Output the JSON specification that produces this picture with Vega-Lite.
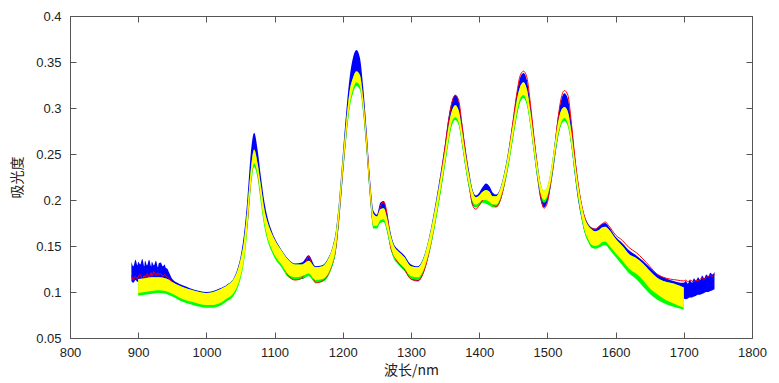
{
  "$schema": "https://vega.github.io/schema/vega-lite/v6.json",
  "width": 682,
  "height": 322,
  "autosize": "none",
  "padding": {"left": 70, "top": 16, "right": 27, "bottom": 45},
  "background": "white",
  "config": {
    "view": {"stroke": null},
    "axis": {"labelFont": "Liberation Sans", "labelFontSize": 13, "labelColor": "#222", "labelFlush": false, "domainColor": "#555", "tickColor": "#555", "grid": false, "titleFont": "Noto Sans CJK SC", "titleFontSize": 14, "titleFontWeight": "normal", "titleColor": "#222"}
  },
  "data": {"values": [
    {"x":890,"bh":0.133,"bl":0.112,"r":0.118},
    {"x":893,"bh":0.128,"bl":0.110,"r":0.113},
    {"x":896,"bh":0.135,"bl":0.113,"r":0.117},
    {"x":899,"bh":0.129,"bl":0.111,"r":0.114},
    {"x":900,"yh":0.114,"yl":0.099,"gl":0.096,"bh":0.133,"bl":0.112,"r":0.116},
    {"x":903,"bh":0.130,"bl":0.111,"r":0.119},
    {"x":906,"bh":0.136,"bl":0.113,"r":0.114},
    {"x":909,"bh":0.128,"bl":0.110,"r":0.118},
    {"x":910,"yh":0.115,"yl":0.100,"gl":0.097,"bh":0.134,"bl":0.112,"r":0.115},
    {"x":913,"bh":0.129,"bl":0.111,"r":0.120},
    {"x":916,"bh":0.135,"bl":0.112,"r":0.116},
    {"x":919,"bh":0.128,"bl":0.110,"r":0.121},
    {"x":920,"yh":0.116,"yl":0.101,"gl":0.098,"bh":0.133,"bl":0.112,"r":0.117},
    {"x":923,"bh":0.129,"bl":0.111,"r":0.122},
    {"x":926,"bh":0.134,"bl":0.112,"r":0.118},
    {"x":929,"bh":0.127,"bl":0.111,"r":0.121},
    {"x":930,"yh":0.116,"yl":0.102,"gl":0.099,"bh":0.131,"bl":0.112,"r":0.119},
    {"x":933,"bh":0.132,"bl":0.112,"r":0.120},
    {"x":936,"bh":0.128,"bl":0.112,"r":0.117},
    {"x":939,"bh":0.130,"bl":0.113,"r":0.119},
    {"x":940,"yh":0.115,"yl":0.101,"gl":0.098,"bh":0.127,"bl":0.113,"r":0.118},
    {"x":943,"bh":0.125,"bl":0.113,"r":0.116},
    {"x":946,"bh":0.120,"bl":0.111,"r":0.114},
    {"x":950,"yh":0.111,"yl":0.098,"gl":0.095,"bh":0.114,"bl":0.106,"r":0.110},
    {"x":960,"yh":0.107,"yl":0.094,"gl":0.091,"bh":0.109,"bl":0.101,"r":0.104},
    {"x":970,"yh":0.104,"yl":0.091,"gl":0.088,"bh":0.106,"bl":0.098,"r":0.100},
    {"x":980,"yh":0.102,"yl":0.089,"gl":0.086,"bh":0.103,"bl":0.095,"r":0.095},
    {"x":990,"yh":0.100,"yl":0.087,"gl":0.084,"bh":0.101,"bl":0.094,"r":0.092},
    {"x":1000,"yh":0.099,"yl":0.086,"gl":0.083,"bh":0.100,"bl":0.093,"r":0.088},
    {"x":1010,"yh":0.100,"yl":0.086,"gl":0.083,"bh":0.101,"bl":0.094,"r":0.089},
    {"x":1020,"yh":0.103,"yl":0.088,"gl":0.085,"bh":0.104,"bl":0.096,"r":0.093},
    {"x":1030,"yh":0.107,"yl":0.093,"gl":0.090,"bh":0.108,"bl":0.100,"r":0.099},
    {"x":1040,"yh":0.114,"yl":0.099,"gl":0.096,"bh":0.115,"bl":0.106,"r":0.108},
    {"x":1045,"yh":0.122,"yl":0.106,"gl":0.103,"bh":0.124,"bl":0.113,"r":0.115},
    {"x":1050,"yh":0.135,"yl":0.117,"gl":0.114,"bh":0.138,"bl":0.125,"r":0.125},
    {"x":1055,"yh":0.155,"yl":0.135,"gl":0.132,"bh":0.162,"bl":0.145,"r":0.148},
    {"x":1060,"yh":0.190,"yl":0.170,"gl":0.166,"bh":0.200,"bl":0.180,"r":0.175},
    {"x":1065,"yh":0.232,"yl":0.215,"gl":0.211,"bh":0.250,"bl":0.225,"r":0.222},
    {"x":1070,"yh":0.255,"yl":0.240,"gl":0.236,"bh":0.273,"bl":0.245,"r":0.245},
    {"x":1075,"yh":0.240,"yl":0.228,"gl":0.224,"bh":0.255,"bl":0.232,"r":0.232},
    {"x":1080,"yh":0.215,"yl":0.200,"gl":0.196,"bh":0.225,"bl":0.203,"r":0.205},
    {"x":1085,"yh":0.190,"yl":0.175,"gl":0.171,"bh":0.198,"bl":0.178,"r":0.186},
    {"x":1090,"yh":0.175,"yl":0.158,"gl":0.155,"bh":0.180,"bl":0.160,"r":0.168},
    {"x":1095,"yh":0.165,"yl":0.148,"gl":0.145,"bh":0.168,"bl":0.149,"r":0.156},
    {"x":1100,"yh":0.157,"yl":0.140,"gl":0.137,"bh":0.159,"bl":0.140,"r":0.148},
    {"x":1110,"yh":0.145,"yl":0.130,"gl":0.127,"bh":0.146,"bl":0.128,"r":0.133},
    {"x":1120,"yh":0.135,"yl":0.119,"gl":0.116,"bh":0.136,"bl":0.117,"r":0.118},
    {"x":1130,"yh":0.130,"yl":0.116,"gl":0.113,"bh":0.131,"bl":0.114,"r":0.113},
    {"x":1140,"yh":0.130,"yl":0.117,"gl":0.114,"bh":0.132,"bl":0.114,"r":0.115},
    {"x":1150,"yh":0.134,"yl":0.120,"gl":0.117,"bh":0.140,"bl":0.118,"r":0.139},
    {"x":1160,"yh":0.127,"yl":0.113,"gl":0.110,"bh":0.128,"bl":0.111,"r":0.110},
    {"x":1170,"yh":0.128,"yl":0.114,"gl":0.111,"bh":0.129,"bl":0.112,"r":0.112},
    {"x":1180,"yh":0.138,"yl":0.122,"gl":0.119,"bh":0.139,"bl":0.120,"r":0.122},
    {"x":1185,"yh":0.148,"yl":0.132,"gl":0.129,"bh":0.149,"bl":0.129,"r":0.134},
    {"x":1190,"yh":0.165,"yl":0.148,"gl":0.145,"bh":0.167,"bl":0.145,"r":0.150},
    {"x":1195,"yh":0.200,"yl":0.185,"gl":0.181,"bh":0.203,"bl":0.180,"r":0.190},
    {"x":1200,"yh":0.245,"yl":0.230,"gl":0.226,"bh":0.250,"bl":0.225,"r":0.235},
    {"x":1205,"yh":0.285,"yl":0.270,"gl":0.266,"bh":0.295,"bl":0.268,"r":0.278},
    {"x":1210,"yh":0.318,"yl":0.303,"gl":0.299,"bh":0.333,"bl":0.303,"r":0.312},
    {"x":1215,"yh":0.333,"yl":0.320,"gl":0.316,"bh":0.355,"bl":0.322,"r":0.328},
    {"x":1220,"yh":0.340,"yl":0.328,"gl":0.324,"bh":0.363,"bl":0.330,"r":0.335},
    {"x":1225,"yh":0.336,"yl":0.324,"gl":0.320,"bh":0.355,"bl":0.325,"r":0.332},
    {"x":1230,"yh":0.310,"yl":0.297,"gl":0.293,"bh":0.322,"bl":0.296,"r":0.305},
    {"x":1235,"yh":0.268,"yl":0.255,"gl":0.251,"bh":0.275,"bl":0.252,"r":0.262},
    {"x":1240,"yh":0.218,"yl":0.205,"gl":0.201,"bh":0.222,"bl":0.202,"r":0.212},
    {"x":1245,"yh":0.185,"yl":0.172,"gl":0.169,"bh":0.188,"bl":0.172,"r":0.175},
    {"x":1250,"yh":0.182,"yl":0.172,"gl":0.169,"bh":0.184,"bl":0.174,"r":0.176},
    {"x":1255,"yh":0.190,"yl":0.178,"gl":0.175,"bh":0.197,"bl":0.178,"r":0.193},
    {"x":1260,"yh":0.191,"yl":0.179,"gl":0.176,"bh":0.199,"bl":0.178,"r":0.198},
    {"x":1265,"yh":0.180,"yl":0.168,"gl":0.165,"bh":0.186,"bl":0.166,"r":0.184},
    {"x":1270,"yh":0.162,"yl":0.150,"gl":0.147,"bh":0.165,"bl":0.148,"r":0.150},
    {"x":1275,"yh":0.150,"yl":0.139,"gl":0.136,"bh":0.152,"bl":0.137,"r":0.140},
    {"x":1280,"yh":0.145,"yl":0.134,"gl":0.131,"bh":0.147,"bl":0.132,"r":0.133},
    {"x":1290,"yh":0.138,"yl":0.126,"gl":0.123,"bh":0.140,"bl":0.124,"r":0.125},
    {"x":1300,"yh":0.128,"yl":0.117,"gl":0.114,"bh":0.130,"bl":0.114,"r":0.114},
    {"x":1310,"yh":0.127,"yl":0.116,"gl":0.113,"bh":0.128,"bl":0.112,"r":0.112},
    {"x":1320,"yh":0.140,"yl":0.127,"gl":0.124,"bh":0.141,"bl":0.124,"r":0.125},
    {"x":1330,"yh":0.170,"yl":0.155,"gl":0.152,"bh":0.172,"bl":0.153,"r":0.158},
    {"x":1340,"yh":0.210,"yl":0.196,"gl":0.192,"bh":0.214,"bl":0.194,"r":0.205},
    {"x":1350,"yh":0.255,"yl":0.242,"gl":0.238,"bh":0.262,"bl":0.240,"r":0.258},
    {"x":1355,"yh":0.280,"yl":0.266,"gl":0.262,"bh":0.290,"bl":0.265,"r":0.285},
    {"x":1360,"yh":0.297,"yl":0.285,"gl":0.281,"bh":0.308,"bl":0.283,"r":0.306},
    {"x":1365,"yh":0.303,"yl":0.290,"gl":0.287,"bh":0.314,"bl":0.288,"r":0.314},
    {"x":1370,"yh":0.297,"yl":0.284,"gl":0.281,"bh":0.307,"bl":0.283,"r":0.308},
    {"x":1375,"yh":0.275,"yl":0.262,"gl":0.259,"bh":0.283,"bl":0.260,"r":0.280},
    {"x":1380,"yh":0.250,"yl":0.237,"gl":0.234,"bh":0.256,"bl":0.235,"r":0.250},
    {"x":1385,"yh":0.228,"yl":0.216,"gl":0.213,"bh":0.232,"bl":0.213,"r":0.222},
    {"x":1390,"yh":0.210,"yl":0.199,"gl":0.196,"bh":0.212,"bl":0.195,"r":0.195},
    {"x":1395,"yh":0.203,"yl":0.195,"gl":0.192,"bh":0.205,"bl":0.192,"r":0.190},
    {"x":1400,"yh":0.205,"yl":0.197,"gl":0.194,"bh":0.208,"bl":0.195,"r":0.194},
    {"x":1405,"yh":0.209,"yl":0.200,"gl":0.197,"bh":0.214,"bl":0.199,"r":0.200},
    {"x":1410,"yh":0.211,"yl":0.200,"gl":0.196,"bh":0.218,"bl":0.200,"r":0.205},
    {"x":1415,"yh":0.209,"yl":0.198,"gl":0.194,"bh":0.215,"bl":0.197,"r":0.201},
    {"x":1420,"yh":0.204,"yl":0.195,"gl":0.192,"bh":0.208,"bl":0.193,"r":0.195},
    {"x":1425,"yh":0.204,"yl":0.195,"gl":0.192,"bh":0.206,"bl":0.192,"r":0.193},
    {"x":1430,"yh":0.210,"yl":0.200,"gl":0.197,"bh":0.211,"bl":0.197,"r":0.198},
    {"x":1440,"yh":0.240,"yl":0.228,"gl":0.225,"bh":0.242,"bl":0.226,"r":0.232},
    {"x":1450,"yh":0.285,"yl":0.272,"gl":0.268,"bh":0.290,"bl":0.270,"r":0.288},
    {"x":1455,"yh":0.308,"yl":0.294,"gl":0.290,"bh":0.316,"bl":0.292,"r":0.315},
    {"x":1460,"yh":0.323,"yl":0.310,"gl":0.306,"bh":0.333,"bl":0.308,"r":0.335},
    {"x":1465,"yh":0.328,"yl":0.314,"gl":0.311,"bh":0.338,"bl":0.313,"r":0.340},
    {"x":1470,"yh":0.320,"yl":0.306,"gl":0.303,"bh":0.330,"bl":0.305,"r":0.333},
    {"x":1475,"yh":0.297,"yl":0.283,"gl":0.280,"bh":0.305,"bl":0.282,"r":0.305},
    {"x":1480,"yh":0.268,"yl":0.255,"gl":0.252,"bh":0.273,"bl":0.253,"r":0.270},
    {"x":1485,"yh":0.240,"yl":0.228,"gl":0.225,"bh":0.243,"bl":0.224,"r":0.236},
    {"x":1490,"yh":0.218,"yl":0.207,"gl":0.204,"bh":0.218,"bl":0.200,"r":0.205},
    {"x":1495,"yh":0.210,"yl":0.200,"gl":0.197,"bh":0.208,"bl":0.192,"r":0.191},
    {"x":1500,"yh":0.215,"yl":0.205,"gl":0.202,"bh":0.213,"bl":0.198,"r":0.197},
    {"x":1505,"yh":0.232,"yl":0.220,"gl":0.217,"bh":0.230,"bl":0.215,"r":0.222},
    {"x":1510,"yh":0.257,"yl":0.245,"gl":0.242,"bh":0.258,"bl":0.240,"r":0.250},
    {"x":1515,"yh":0.282,"yl":0.269,"gl":0.266,"bh":0.288,"bl":0.266,"r":0.285},
    {"x":1520,"yh":0.297,"yl":0.284,"gl":0.281,"bh":0.308,"bl":0.283,"r":0.310},
    {"x":1525,"yh":0.301,"yl":0.289,"gl":0.286,"bh":0.316,"bl":0.289,"r":0.319},
    {"x":1530,"yh":0.296,"yl":0.283,"gl":0.280,"bh":0.310,"bl":0.283,"r":0.314},
    {"x":1535,"yh":0.275,"yl":0.262,"gl":0.259,"bh":0.285,"bl":0.260,"r":0.285},
    {"x":1540,"yh":0.245,"yl":0.232,"gl":0.229,"bh":0.250,"bl":0.228,"r":0.248},
    {"x":1545,"yh":0.218,"yl":0.205,"gl":0.202,"bh":0.220,"bl":0.200,"r":0.218},
    {"x":1550,"yh":0.196,"yl":0.183,"gl":0.180,"bh":0.197,"bl":0.180,"r":0.195},
    {"x":1555,"yh":0.180,"yl":0.166,"gl":0.163,"bh":0.182,"bl":0.164,"r":0.180},
    {"x":1560,"yh":0.172,"yl":0.157,"gl":0.154,"bh":0.174,"bl":0.156,"r":0.172},
    {"x":1565,"yh":0.168,"yl":0.151,"gl":0.148,"bh":0.170,"bl":0.153,"r":0.169},
    {"x":1570,"yh":0.166,"yl":0.150,"gl":0.147,"bh":0.169,"bl":0.153,"r":0.168},
    {"x":1575,"yh":0.167,"yl":0.151,"gl":0.148,"bh":0.171,"bl":0.155,"r":0.171},
    {"x":1580,"yh":0.170,"yl":0.154,"gl":0.150,"bh":0.174,"bl":0.157,"r":0.174},
    {"x":1585,"yh":0.171,"yl":0.155,"gl":0.151,"bh":0.175,"bl":0.158,"r":0.176},
    {"x":1590,"yh":0.168,"yl":0.151,"gl":0.147,"bh":0.171,"bl":0.154,"r":0.172},
    {"x":1600,"yh":0.158,"yl":0.142,"gl":0.138,"bh":0.160,"bl":0.145,"r":0.162},
    {"x":1610,"yh":0.150,"yl":0.134,"gl":0.129,"bh":0.153,"bl":0.138,"r":0.156},
    {"x":1620,"yh":0.141,"yl":0.125,"gl":0.120,"bh":0.145,"bl":0.130,"r":0.148},
    {"x":1630,"yh":0.137,"yl":0.120,"gl":0.114,"bh":0.140,"bl":0.125,"r":0.143},
    {"x":1640,"yh":0.131,"yl":0.113,"gl":0.106,"bh":0.134,"bl":0.118,"r":0.136},
    {"x":1650,"yh":0.123,"yl":0.104,"gl":0.098,"bh":0.127,"bl":0.112,"r":0.128},
    {"x":1660,"yh":0.116,"yl":0.098,"gl":0.092,"bh":0.120,"bl":0.106,"r":0.120},
    {"x":1670,"yh":0.112,"yl":0.093,"gl":0.088,"bh":0.116,"bl":0.101,"r":0.116},
    {"x":1680,"yh":0.110,"yl":0.089,"gl":0.085,"bh":0.113,"bl":0.097,"r":0.114},
    {"x":1690,"yh":0.108,"yl":0.086,"gl":0.083,"bh":0.111,"bl":0.095,"r":0.113},
    {"x":1700,"yh":0.105,"yl":0.083,"gl":0.081,"bh":0.110,"bl":0.093,"r":0.112},
    {"x":1703,"bh":0.112,"bl":0.092,"r":0.113},
    {"x":1706,"bh":0.109,"bl":0.093,"r":0.111},
    {"x":1709,"bh":0.113,"bl":0.094,"r":0.113},
    {"x":1712,"bh":0.110,"bl":0.094,"r":0.112},
    {"x":1715,"bh":0.115,"bl":0.095,"r":0.111},
    {"x":1718,"bh":0.112,"bl":0.096,"r":0.113},
    {"x":1721,"bh":0.116,"bl":0.097,"r":0.112},
    {"x":1724,"bh":0.113,"bl":0.097,"r":0.114},
    {"x":1727,"bh":0.118,"bl":0.098,"r":0.115},
    {"x":1730,"bh":0.115,"bl":0.099,"r":0.114},
    {"x":1733,"bh":0.119,"bl":0.100,"r":0.116},
    {"x":1736,"bh":0.117,"bl":0.100,"r":0.117},
    {"x":1739,"bh":0.121,"bl":0.101,"r":0.118},
    {"x":1742,"bh":0.119,"bl":0.102,"r":0.117},
    {"x":1745,"bh":0.122,"bl":0.103,"r":0.119}
  ]},
  "layer": [
    {
      "encoding": {
        "x": {"field": "x", "type": "quantitative", "scale": {"domain": [800, 1800], "nice": false, "zero": false},
          "axis": {"orient": "bottom", "values": [800,900,1000,1100,1200,1300,1400,1500,1600,1700,1800], "format": "d", "tickSize": -6, "labelPadding": 14, "title": "波长/nm", "titleY": 32, "titleBaseline": "middle"}}
      },
      "layer": [
        {"transform": [{"filter": "isValid(datum.bh)"}],
         "mark": {"type": "area", "interpolate": "monotone", "color": "#0000ff"},
         "encoding": {
           "y": {"field": "bl", "type": "quantitative", "scale": {"domain": [0.05, 0.4], "nice": false, "zero": false},
             "axis": {"orient": "left", "values": [0.05,0.1,0.15,0.2,0.25,0.3,0.35,0.4], "format": ".2~f", "tickSize": -6, "labelPadding": 15, "title": "吸光度", "titleX": -53, "titleY": 161, "titleAngle": -90, "titleAlign": "center", "titleBaseline": "middle"}},
           "y2": {"field": "bh"}
         }},
        {"transform": [{"filter": "isValid(datum.yh)"}],
         "mark": {"type": "area", "interpolate": "monotone", "color": "#00ff00"},
         "encoding": {
           "y": {"field": "gl", "type": "quantitative", "scale": {"domain": [0.05, 0.4], "nice": false, "zero": false}, "axis": {"orient": "left", "values": [0.05,0.1,0.15,0.2,0.25,0.3,0.35,0.4], "format": ".2~f", "tickSize": -6, "labelPadding": 15, "title": "吸光度", "titleX": -53, "titleY": 161, "titleAngle": -90, "titleAlign": "center", "titleBaseline": "middle"}},
           "y2": {"field": "yh"}
         }},
        {"transform": [{"filter": "isValid(datum.r)"}],
         "mark": {"type": "line", "interpolate": "monotone", "color": "#ff0000", "strokeWidth": 1},
         "encoding": {
           "y": {"field": "r", "type": "quantitative", "scale": {"domain": [0.05, 0.4], "nice": false, "zero": false}, "axis": {"orient": "left", "values": [0.05,0.1,0.15,0.2,0.25,0.3,0.35,0.4], "format": ".2~f", "tickSize": -6, "labelPadding": 15, "title": "吸光度", "titleX": -53, "titleY": 161, "titleAngle": -90, "titleAlign": "center", "titleBaseline": "middle"}}
         }},
        {"transform": [{"filter": "isValid(datum.yh)"}],
         "mark": {"type": "area", "interpolate": "monotone", "color": "#ffff00"},
         "encoding": {
           "y": {"field": "yl", "type": "quantitative", "scale": {"domain": [0.05, 0.4], "nice": false, "zero": false}, "axis": {"orient": "left", "values": [0.05,0.1,0.15,0.2,0.25,0.3,0.35,0.4], "format": ".2~f", "tickSize": -6, "labelPadding": 15, "title": "吸光度", "titleX": -53, "titleY": 161, "titleAngle": -90, "titleAlign": "center", "titleBaseline": "middle"}},
           "y2": {"field": "yh"}
         }}
      ]
    },
    {
      "mark": {"type": "point", "opacity": 0},
      "encoding": {
        "x": {"field": "x", "type": "quantitative", "scale": {"domain": [800, 1800], "nice": false, "zero": false},
          "axis": {"orient": "top", "values": [800,900,1000,1100,1200,1300,1400,1500,1600,1700,1800], "labels": false, "tickSize": -6, "title": null}},
        "y": {"field": "bh", "type": "quantitative", "scale": {"domain": [0.05, 0.4], "nice": false, "zero": false},
          "axis": {"orient": "right", "values": [0.05,0.1,0.15,0.2,0.25,0.3,0.35,0.4], "labels": false, "tickSize": -6, "title": null}}
      }
    }
  ],
  "resolve": {"axis": {"x": "independent", "y": "independent"}}
}
